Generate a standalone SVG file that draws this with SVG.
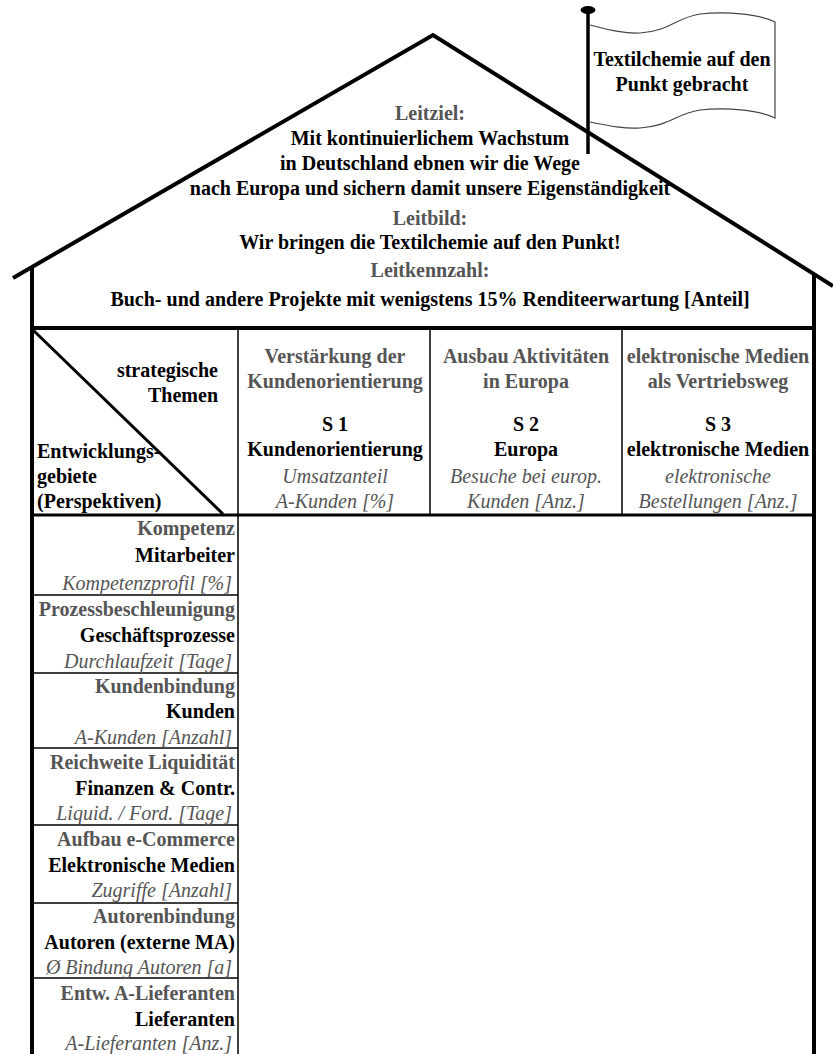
<svg xmlns="http://www.w3.org/2000/svg" width="833" height="1054" viewBox="0 0 833 1054">
  <style>
    text { font-family: "Liberation Serif", "Times New Roman", serif; font-size: 20px; }
    .b { font-weight: bold; fill: #000; }
    .g { font-weight: bold; fill: #555; }
    .i { font-style: italic; fill: #555; }
    .c { text-anchor: middle; }
    .r { text-anchor: end; }
    .thick { stroke: #000; stroke-width: 4; fill: none; }
    .thin { stroke: #000; stroke-width: 1.5; fill: none; }
  </style>
  <rect width="833" height="1054" fill="#fff"/>

  <!-- house outline: roof, walls -->
  <g id="house">
    <polyline class="thick" points="13,278 433,35 833,286"/>
    <line class="thick" x1="32" y1="266" x2="32" y2="1054"/>
    <line class="thick" x1="814" y1="273" x2="814" y2="1054"/>
  </g>

  <!-- flag on the roof -->
  <g id="flag">
    <path d="M590,25 C610,30 625,34 640,33 C670,31 675,18 700,14 C725,11 760,14 775,22 L775,118 C760,110 725,107 700,110 C675,114 670,126 640,128 C625,129 610,126 590,122" fill="#fff" stroke="#444" stroke-width="1.2"/>
    <line x1="588" y1="10" x2="588" y2="154" stroke="#000" stroke-width="3.5"/>
    <ellipse cx="588" cy="10" rx="7.5" ry="4" fill="#000"/>
    <text class="b c" x="682" y="66">Textilchemie auf den</text>
    <text class="b c" x="682" y="91">Punkt gebracht</text>
  </g>

  <!-- mission statements in the roof -->
  <g id="leitziel">
    <text class="g c" x="430" y="120">Leitziel:</text>
    <text class="b c" x="430" y="145">Mit kontinuierlichem Wachstum</text>
    <text class="b c" x="430" y="170">in Deutschland ebnen wir die Wege</text>
    <text class="b c" x="430" y="195">nach Europa und sichern damit unsere Eigenständigkeit</text>
  </g>
  <g id="leitbild">
    <text class="g c" x="430" y="225">Leitbild:</text>
    <text class="b c" x="430" y="249">Wir bringen die Textilchemie auf den Punkt!</text>
  </g>
  <g id="leitkennzahl">
    <text class="g c" x="430" y="277">Leitkennzahl:</text>
    <text class="b c" x="430" y="306">Buch- und andere Projekte mit wenigstens 15% Renditeerwartung [Anteil]</text>
  </g>

  <!-- header row of the matrix -->
  <g id="header-grid">
    <line class="thick" x1="32" y1="328" x2="814" y2="328"/>
    <line stroke="#000" stroke-width="3" x1="32" y1="515" x2="814" y2="515"/>
    <line class="thin" x1="238" y1="328" x2="238" y2="1054"/>
    <line class="thin" x1="430" y1="328" x2="430" y2="515"/>
    <line class="thin" x1="622" y1="328" x2="622" y2="515"/>
  </g>

  <g id="corner">
    <line stroke="#000" stroke-width="3" x1="33" y1="330" x2="223" y2="514"/>
    <text class="b r" x="218" y="377">strategische</text>
    <text class="b r" x="218" y="402">Themen</text>
    <text class="b" x="37" y="458">Entwicklungs-</text>
    <text class="b" x="37" y="483">gebiete</text>
    <text class="b" x="37" y="508">(Perspektiven)</text>
  </g>

  <g id="s1">
    <text class="g c" x="335" y="363">Verstärkung der</text>
    <text class="g c" x="335" y="388">Kundenorientierung</text>
    <text class="b c" x="335" y="431">S 1</text>
    <text class="b c" x="335" y="456">Kundenorientierung</text>
    <text class="i c" x="335" y="483">Umsatzanteil</text>
    <text class="i c" x="335" y="508">A-Kunden [%]</text>
  </g>

  <g id="s2">
    <text class="g c" x="526" y="363">Ausbau Aktivitäten</text>
    <text class="g c" x="526" y="388">in Europa</text>
    <text class="b c" x="526" y="431">S 2</text>
    <text class="b c" x="526" y="456">Europa</text>
    <text class="i c" x="526" y="483">Besuche bei europ.</text>
    <text class="i c" x="526" y="508">Kunden [Anz.]</text>
  </g>

  <g id="s3">
    <text class="g c" x="718" y="363">elektronische Medien</text>
    <text class="g c" x="718" y="388">als Vertriebsweg</text>
    <text class="b c" x="718" y="431">S 3</text>
    <text class="b c" x="718" y="456">elektronische Medien</text>
    <text class="i c" x="718" y="483">elektronische</text>
    <text class="i c" x="718" y="508">Bestellungen [Anz.]</text>
  </g>

  <!-- perspective rows -->
  <g id="row-lines">
    <line class="thin" x1="32" y1="595" x2="238" y2="595"/>
    <line class="thin" x1="32" y1="673" x2="238" y2="673"/>
    <line class="thin" x1="32" y1="748" x2="238" y2="748"/>
    <line class="thin" x1="32" y1="825" x2="238" y2="825"/>
    <line class="thin" x1="32" y1="903" x2="238" y2="903"/>
    <line class="thin" x1="32" y1="978" x2="238" y2="978"/>
  </g>

  <g id="mitarbeiter">
    <text class="g r" x="235" y="535">Kompetenz</text>
    <text class="b r" x="235" y="562">Mitarbeiter</text>
    <text class="i r" x="232" y="590">Kompetenzprofil [%]</text>
  </g>
  <g id="geschaeftsprozesse">
    <text class="g r" x="235" y="616">Prozessbeschleunigung</text>
    <text class="b r" x="235" y="642">Geschäftsprozesse</text>
    <text class="i r" x="232" y="668">Durchlaufzeit [Tage]</text>
  </g>
  <g id="kunden">
    <text class="g r" x="235" y="693">Kundenbindung</text>
    <text class="b r" x="235" y="718">Kunden</text>
    <text class="i r" x="232" y="744">A-Kunden [Anzahl]</text>
  </g>
  <g id="finanzen">
    <text class="g r" x="235" y="769">Reichweite Liquidität</text>
    <text class="b r" x="235" y="795">Finanzen &amp; Contr.</text>
    <text class="i r" x="232" y="820">Liquid. / Ford. [Tage]</text>
  </g>
  <g id="medien">
    <text class="g r" x="235" y="846">Aufbau e-Commerce</text>
    <text class="b r" x="235" y="872">Elektronische Medien</text>
    <text class="i r" x="232" y="897">Zugriffe [Anzahl]</text>
  </g>
  <g id="autoren">
    <text class="g r" x="235" y="923">Autorenbindung</text>
    <text class="b r" x="235" y="949">Autoren (externe MA)</text>
    <text class="i r" x="232" y="974">Ø Bindung Autoren [a]</text>
  </g>
  <g id="lieferanten">
    <text class="g r" x="235" y="1000">Entw. A-Lieferanten</text>
    <text class="b r" x="235" y="1026">Lieferanten</text>
    <text class="i r" x="232" y="1050">A-Lieferanten [Anz.]</text>
  </g>

  <!-- no connectors in this figure -->
  <g id="connectors"></g>
</svg>
